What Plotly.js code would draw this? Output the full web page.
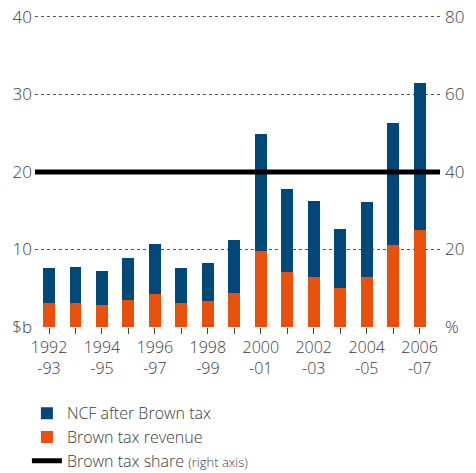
<!DOCTYPE html>
<html>
<head>
<meta charset="utf-8">
<script src="https://cdn.plot.ly/plotly-3.0.1.min.js"></script>
<style>html,body{margin:0;padding:0;background:#fff;}#chart{width:476px;height:473px;}</style>
</head>
<body>
<div id="chart"></div>
<script>
const years = ['1992-93','1993-94','1994-95','1995-96','1996-97','1997-98','1998-99','1999-00','2000-01','2001-02','2002-03','2003-04','2004-05','2005-06','2006-07'];
const tickLabels = ['1992<br>-93','','1994<br>-95','','1996<br>-97','','1998<br>-99','','2000<br>-01','','2002<br>-03','','2004<br>-05','','2006<br>-07'];
const brownRevenue = [3.1, 3.1, 2.85, 3.5, 4.3, 3.1, 3.3, 4.4, 9.85, 7.1, 6.45, 5.05, 6.45, 10.6, 12.5];
const ncfAfter = [4.5, 4.6, 4.4, 5.4, 6.4, 4.5, 5.0, 6.8, 15.0, 10.7, 9.8, 7.6, 9.65, 15.7, 19.0];
const brownShare = [40,40,40,40,40,40,40,40,40,40,40,40,40,40,40];
const shareIdx = brownShare.map((v,i)=>i);

const font = {family: '"Open Sans", "Noto Sans", sans-serif', color: '#3c3c3c', weight: 300};

const traces = [
  {type:'bar', x: years, y: brownRevenue, name:'Brown tax revenue', marker:{color:'#E9500D'}, legendrank: 2, hoverinfo:'skip'},
  {type:'bar', x: years, y: ncfAfter, name:'NCF after Brown tax', marker:{color:'#004877'}, legendrank: 1, hoverinfo:'skip'},
  {type:'scatter', mode:'lines', x: shareIdx, y: brownShare, xaxis:'x2', yaxis:'y2',
   name:'Brown tax share <span style="font-size:13px">(right axis)</span>',
   line:{color:'#000', width:5}, legendrank: 3, hoverinfo:'skip'}
];

const layout = {
  width: 476, height: 473,
  margin: {l: 35, r: 36, t: 15, b: 146, autoexpand: false},
  paper_bgcolor: '#fff', plot_bgcolor: '#fff',
  font: Object.assign({size: 16}, font),
  barmode: 'stack', bargap: 0.55,
  showlegend: true,
  legend: {x: -0.02, xanchor: 'left', y: -0.222, yanchor: 'top', traceorder: 'normal',
           font: Object.assign({size: 16}, font), bgcolor: 'rgba(0,0,0,0)', tracegroupgap: 0},
  xaxis: {type: 'category', range: [-0.53, 14.77], tickmode: 'array', tickvals: years, ticktext: tickLabels,
          ticks: 'outside', ticklen: 6, tickcolor: '#444', tickwidth: 1, showgrid: false, showline: false,
          zeroline: false, tickfont: Object.assign({size: 16}, font), fixedrange: true, automargin: false},
  xaxis2: {overlaying: 'x', range: [0, 14], visible: false, fixedrange: true},
  yaxis: {range: [0, 40.25], tickmode: 'array', tickvals: [0,10,20,30,40], ticktext: ['$b','10','20','30','40'],
          showgrid: true, gridcolor: '#555', griddash: 'dot', gridwidth: 1, zeroline: false, showline: false,
          ticks: '', tickfont: Object.assign({size: 17}, font), ticklabelstandoff: 2, fixedrange: true, automargin: false},
  yaxis2: {overlaying: 'y', side: 'right', range: [0, 80.5], tickmode: 'array', tickvals: [0,20,40,60,80],
           ticktext: ['%','20','40','60','80'], showgrid: false, zeroline: false, showline: false, ticks: '',
           tickfont: Object.assign({size: 17}, font), ticklabelstandoff: 4, fixedrange: true, automargin: false}
};

Plotly.newPlot('chart', traces, layout, {staticPlot: true, displayModeBar: false});
</script>
</body>
</html>
